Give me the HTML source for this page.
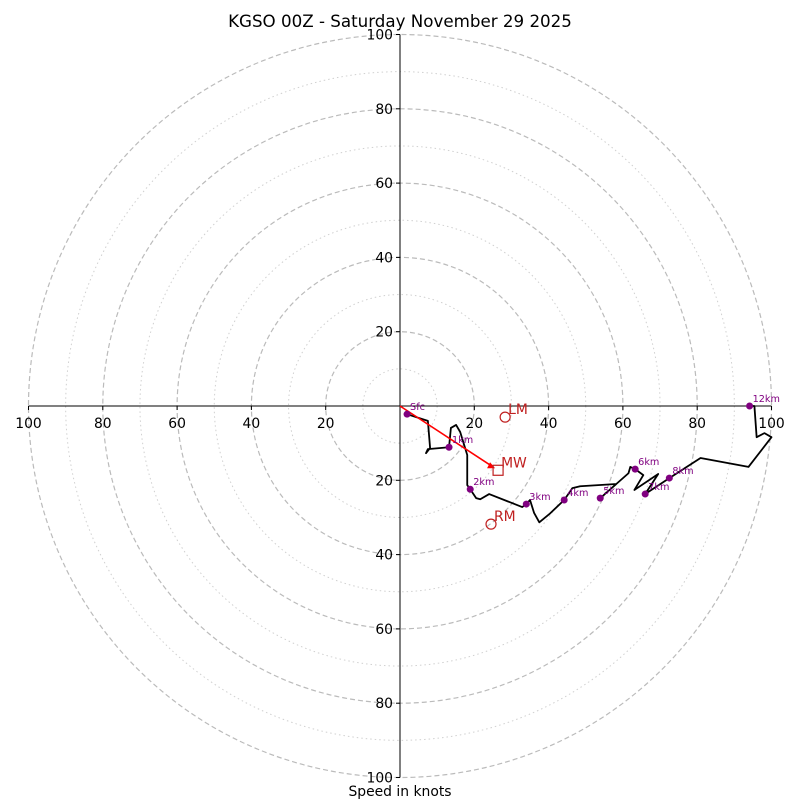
<!DOCTYPE html>
<html><head><meta charset="utf-8"><style>
body{margin:0;background:#fff}
svg{display:block;font-family:"DejaVu Sans","Liberation Sans",sans-serif}
</style></head><body>
<svg id="c" width="800" height="800" viewBox="0 0 800 800" xmlns="http://www.w3.org/2000/svg">
<text x="400" y="27" text-anchor="middle" font-size="16.7">KGSO 00Z - Saturday November 29 2025</text>
<text x="400" y="796" text-anchor="middle" font-size="13.9">Speed in knots</text>
<g id="g"></g>
</svg>
<script>
const ringValues=[10,20,30,40,50,60,70,80,90,100];
const tickLabels=[20,40,60,80,100];
const traceU=[1.9,7.5,8.1,7.0,7.5,13.2,13.7,15.1,16.2,18.1,18.1,18.9,20.5,21.6,24.0,32.9,34.0,35.0,36.1,37.5,40.2,44.2,46.4,48.5,58.2,53.9,61.5,62.0,63.3,65.5,63.1,69.5,66.0,72.5,80.9,93.8,100,98.1,96.0,95.4,94.1];
const traceV=[-2.2,-4.0,-11.3,-12.7,-11.6,-11.1,-5.9,-5.1,-7.0,-13.2,-21.3,-22.4,-24.8,-25.1,-23.7,-27.2,-26.4,-25.3,-28.8,-31.3,-29.1,-25.3,-22.1,-21.6,-21.0,-24.8,-18.1,-16.4,-17.0,-18.6,-22.6,-18.3,-23.7,-19.4,-14.0,-16.4,-8.4,-7.3,-8.4,0,0];
const levelLabels=["Sfc","1km","2km","3km","4km","5km","6km","7km","8km","12km"];
const levelU=[1.9,13.2,18.9,34.0,44.2,53.9,63.3,66.0,72.5,94.1];
const levelV=[-2.2,-11.1,-22.4,-26.4,-25.3,-24.8,-17.0,-23.7,-19.4,0];
const motionLabels=["LM","MW","RM"];
const motionU=[28.3,26.4,24.5];
const motionV=[-3.0,-17.3,-31.8];

const CX=400,CY=406,S=3.715;
const sx=u=>CX+u*S, sy=v=>CY-v*S;
const g=document.getElementById('g');
const NS='http://www.w3.org/2000/svg';
function mk(t,a){const e=document.createElementNS(NS,t);for(const k in a)e.setAttribute(k,a[k]);g.appendChild(e);return e;}
ringValues.forEach(r=>{
  const e=mk('circle',{cx:CX,cy:CY,r:r*S,fill:'none',stroke:r%20?'#d0d0d0':'#bbb','stroke-width':r%20?1:1.2,'stroke-dasharray':r%20?'1.5,3':'5,3'});
  
  
});
let e=mk('line',{x1:sx(-100),y1:CY,x2:sx(100),y2:CY,stroke:'#000','stroke-width':1});


e=mk('line',{x1:CX,y1:sy(100),x2:CX,y2:sy(-100),stroke:'#000','stroke-width':1});


tickLabels.forEach(t=>{
  [1,-1].forEach(sg=>{
    mk('line',{x1:sx(sg*t),y1:CY,x2:sx(sg*t),y2:CY+4,stroke:'#000'});
    let l=mk('text',{x:sx(sg*t),y:CY+22,'text-anchor':'middle','font-size':13.9});
    l.textContent=t;
    
    
    mk('line',{x1:CX-4,y1:sy(sg*t),x2:CX,y2:sy(sg*t),stroke:'#000'});
    l=mk('text',{x:CX-7,y:sy(sg*t)+5,'text-anchor':'end','font-size':13.9});
    l.textContent=t;
    
    
  });
});
let pts=traceU.map((u,i)=>sx(u)+','+sy(traceV[i])).join(' ');
e=mk('polyline',{points:pts,fill:'none',stroke:'#000','stroke-width':1.8,'stroke-linejoin':'round'});


const mx=sx(motionU[1]),my=sy(motionV[1]);
e=mk('line',{x1:CX,y1:CY,x2:mx-6,y2:my-4,stroke:'#f00','stroke-width':1.6});


mk('polygon',{points:`${mx-3},${my-2} ${mx-11},${my-2} ${mx-8},${my-8}`,fill:'#f00'});
levelLabels.forEach((n,i)=>{
  let d=mk('circle',{cx:sx(levelU[i]),cy:sy(levelV[i]),r:3.5,fill:'#800080'});
  
  
  let t=mk('text',{x:sx(levelU[i])+3,y:sy(levelV[i])-4,'font-size':9.7,fill:'#800080'});
  t.textContent=n;
  
  
});
motionLabels.forEach((n,i)=>{
  const x=sx(motionU[i]),y=sy(motionV[i]);
  let m=n==='MW'?mk('rect',{x:x-5,y:y-5,width:10,height:10,fill:'none',stroke:'#c02020','stroke-width':1.2}):mk('circle',{cx:x,cy:y,r:5,fill:'none',stroke:'#c02020','stroke-width':1.2});
  
  
  let t=mk('text',{x:x+3,y:y-3,'font-size':13.9,fill:'#c02020'});
  t.textContent=n;
  
  
});
</script>
</body></html>
